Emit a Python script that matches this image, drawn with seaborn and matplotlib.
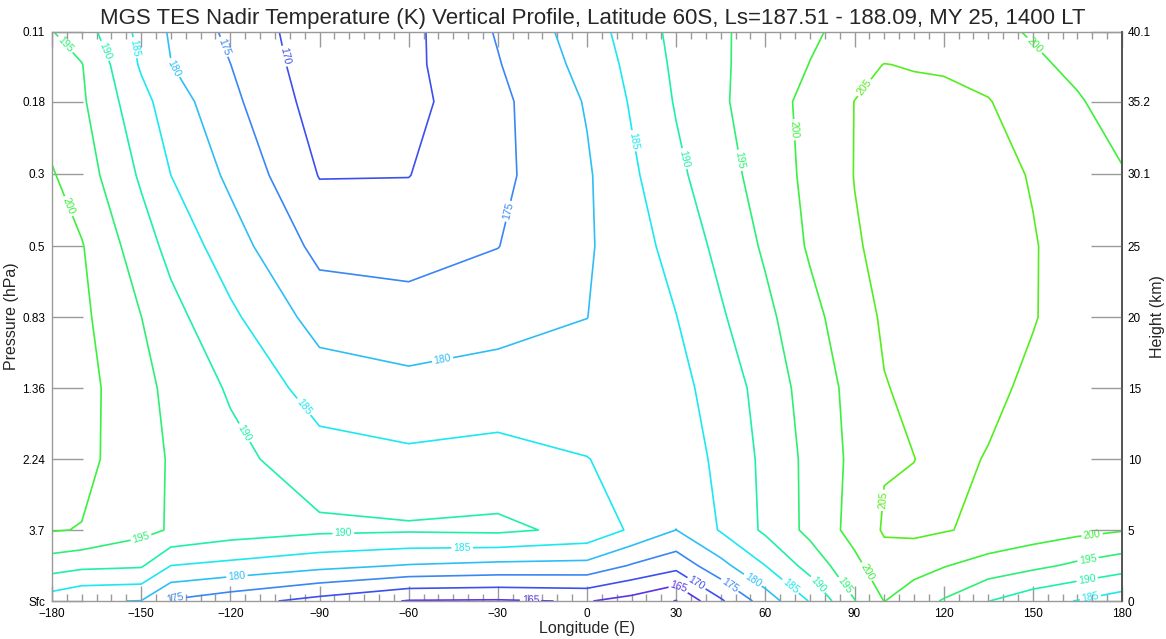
import numpy as np
import matplotlib
matplotlib.use("Agg")
import matplotlib.pyplot as plt
from matplotlib.ticker import MultipleLocator
import seaborn as sns

# ---------------- data ----------------
longitude = [-180, -170, -150, -140, -120, -90, -60, -30, 0, 15, 30, 45,
             60, 75, 90, 100, 110, 120, 135, 150, 165, 180]
height_km = [0, 2.5, 5, 10, 15, 20, 25, 30, 35.2, 37.8, 40.1]

# temperature (K) along longitude at each height level
t_0km = [182.3, 180.3, 179.9, 174.5, 172.0, 168.3, 164.7, 164.5, 165.3, 163.2, 159.8, 169.3,
         177.3, 185.3, 194.8, 200.1, 197.3, 194.6, 190.1, 186.9, 184.8, 182.3]
t_2p5km = [192.3, 191.2, 190.6, 185.0, 183.7, 181.5, 179.7, 178.75, 178.5, 174.6, 171.7, 178.5,
           185.0, 191.9, 198.7, 203.0, 201.8, 200.3, 198.0, 196.2, 194.1, 192.3]
t_5km = [200.3, 199.8, 196.3, 194.6, 192.5, 191.0, 190.6, 191.0, 188.8, 184.2, 179.95, 185.4,
         190.9, 196.3, 201.7, 205.5, 206.0, 205.3, 204.0, 202.6, 201.3, 200.3]
t_10km = [202.5, 201.5, 196.7, 194.6, 191.5, 187.0, 186.0, 186.7, 185.1, 183.8, 183.5, 185.6,
          191.3, 196.3, 201.2, 204.7, 204.95, 206.0, 204.8, 203.5, 203.0, 202.5]
t_15km = [202.8, 201.8, 196.3, 193.9, 189.4, 182.7, 181.4, 182.2, 182.5, 183.5, 183.7, 186.8,
          192.2, 197.0, 201.6, 204.8, 205.8, 206.5, 205.8, 204.3, 203.5, 202.8]
t_20km = [202.5, 201.0, 195.05, 191.7, 186.0, 178.0, 176.9, 178.2, 179.95, 182.4, 184.9, 189.4,
          193.8, 198.5, 203.0, 205.6, 206.5, 207.0, 206.5, 205.2, 203.5, 202.5]
t_25km = [201.5, 200.3, 192.3, 188.5, 182.3, 173.5, 173.1, 174.9, 179.4, 182.8, 186.8, 191.3,
          195.7, 200.6, 204.6, 206.0, 206.7, 207.0, 207.0, 205.3, 203.0, 201.5]
t_30km = [200.4, 197.5, 189.3, 185.0, 179.0, 169.8, 169.9, 173.8, 179.4, 184.1, 188.9, 193.0,
          197.1, 201.2, 205.1, 206.5, 206.8, 207.0, 206.5, 204.7, 202.0, 200.4]
t_35km = [197.7, 195.7, 186.6, 182.5, 176.2, 167.8, 168.5, 173.8, 180.4, 185.5, 190.4, 194.3,
          197.8, 201.4, 205.05, 206.0, 206.3, 206.3, 205.2, 202.9, 200.5, 197.7]
t_38km = [196.5, 195.2, 184.4, 180.1, 175.05, 167.0, 168.8, 174.7, 181.6, 186.3, 190.9, 194.3,
          197.3, 200.1, 203.5, 205.1, 204.7, 204.4, 203.5, 201.0, 198.8, 196.5]
t_40km = [195.2, 192.3, 183.7, 179.4, 173.9, 166.8, 168.7, 175.4, 182.6, 187.1, 191.3, 194.4,
          196.9, 199.3, 201.5, 202.0, 202.4, 202.5, 201.5, 199.5, 197.4, 195.2]

contour_levels = [160, 165, 170, 175, 180, 185, 190, 195, 200, 205]
level_colors = ['#6a1ed2', '#5a34e6', '#3c50ee', '#3a86f4', '#2ebef6',
                '#1ce8f0', '#1ef0a8', '#2cf074', '#3cf03c', '#54ee1e']

pressure_labels = ['Sfc', '3.7', '2.24', '1.36', '0.83', '0.5', '0.3', '0.18', '0.11']
height_labels = ['0', '5', '10', '15', '20', '25', '30.1', '35.2', '40.1']
height_ticks = [0, 5, 10, 15, 20, 25, 30.1, 35.2, 40.1]

# approximate label anchor points (lon, km)
label_points = [
    (-175.6, 39.2), (-161.8, 38.8), (-152, 39), (-138.6, 37.6), (-122.8, 39),
    (-104, 38.3), (-173.6, 27.9), (-25.2, 27.4), (-48.4, 16.8), (-95.2, 13.7),
    (-115.7, 11.8), (-149.4, 3.9), (-82, 4.9), (-42, 3.6), (-117.8, 1.8),
    (-138.6, 0.4), (-19, 0.1), (30.6, 0.9), (37, 1.3), (48, 1.1), (55.9, 1.5),
    (68.3, 1.0), (77.4, 1.1), (86.2, 1.0), (93.6, 2.0), (14.8, 32.4),
    (31.2, 31.1), (49.8, 31), (68.3, 33.2), (92, 36.4), (99.3, 7.1),
    (150.8, 39.2), (170, 4.5), (168.6, 2.9), (168.3, 1.5), (169.3, 0.3),
]

# ---------------- plot ----------------
sns.set_theme(style="white")
plt.rcParams['font.family'] = ['Liberation Sans', 'DejaVu Sans']

temperature = np.array([t_0km, t_2p5km, t_5km, t_10km, t_15km, t_20km,
                        t_25km, t_30km, t_35km, t_38km, t_40km])

fig = plt.figure(figsize=(11.66, 6.39), dpi=100)
ax = fig.add_axes([52 / 1166, 38 / 639, 1070 / 1166, 569 / 639])

cs = ax.contour(longitude, height_km, temperature, levels=contour_levels,
                colors=level_colors, linewidths=1.2)
ax.clabel(cs, fmt='%d', fontsize=7.5, inline=True, inline_spacing=2,
          manual=label_points)

ax.set_xlim(-180, 180)
ax.set_ylim(0, 40.1)
ax.set_xticks(np.arange(-180, 181, 30))
ax.xaxis.set_minor_locator(MultipleLocator(5))
ax.set_yticks(height_ticks)
ax.set_yticklabels(pressure_labels)

ax.tick_params(axis='x', which='major', direction='in', length=11, width=1,
               color='#9a9a9a', top=True, bottom=True, labelsize=8.5, pad=5,
               labelcolor='black')
ax.tick_params(axis='x', which='minor', direction='in', length=5, width=1,
               color='#9a9a9a', top=True, bottom=True)
ax.tick_params(axis='y', which='major', direction='in', length=22, width=1,
               color='#9a9a9a', left=True, right=False, labelsize=8.5, pad=5,
               labelcolor='black')

for side in ['left', 'bottom', 'top']:
    ax.spines[side].set_color('#9a9a9a')
    ax.spines[side].set_linewidth(1)
ax.spines['right'].set_color('#555555')

ax2 = ax.twinx()
ax2.set_ylim(0, 40.1)
ax2.set_yticks(height_ticks)
ax2.set_yticklabels(height_labels)
ax2.tick_params(axis='y', direction='in', length=22, width=1, color='#9a9a9a',
                labelsize=8.5, pad=4, labelcolor='black')
for side in ['left', 'bottom', 'top']:
    ax2.spines[side].set_visible(False)
ax2.spines['right'].set_color('#555555')
ax2.grid(False)
ax.grid(False)

ax.set_xlabel('Longitude (E)', fontsize=11.5, labelpad=1)
ax.set_ylabel('Pressure (hPa)', fontsize=11.5)
ax.yaxis.set_label_coords(-0.031, 0.5)
ax2.set_ylabel('Height (km)', fontsize=11.5, rotation=90)
ax2.yaxis.set_label_coords(1.0265, 0.5)

fig.suptitle('MGS TES Nadir Temperature (K) Vertical Profile, Latitude 60S, '
             'Ls=187.51 - 188.09, MY 25, 1400 LT', fontsize=16, y=0.988,
             x=0.508)

fig.savefig('out.png', dpi=100, facecolor='white')
